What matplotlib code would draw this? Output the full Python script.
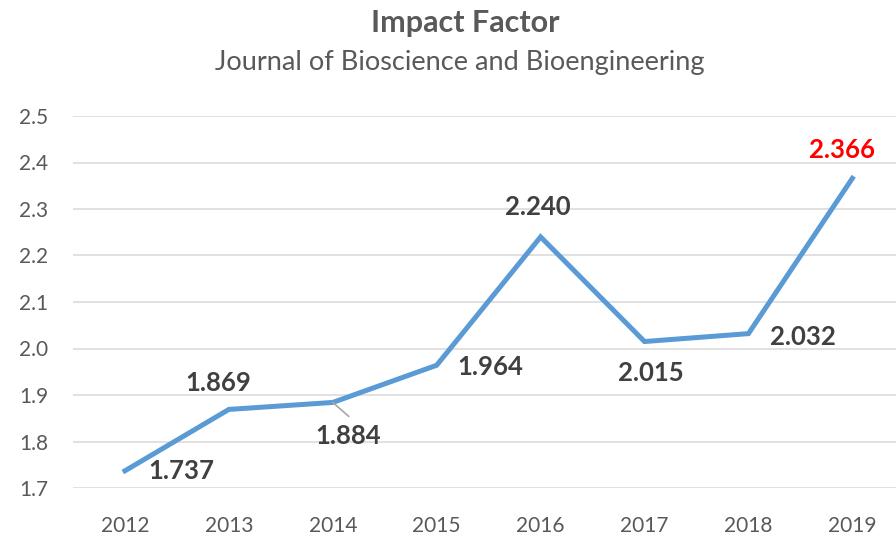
import matplotlib
matplotlib.use("Agg")
import matplotlib.pyplot as plt

years = ["2012", "2013", "2014", "2015", "2016", "2017", "2018", "2019"]
impact = [1.737, 1.869, 1.884, 1.964, 2.240, 2.015, 2.032, 2.366]
label_text = ["1.737", "1.869", "1.884", "1.964", "2.240", "2.015", "2.032", "2.366"]
# label offsets from each point, in pixels (dx, dy)
label_offsets = [(56, 0), (-11, 26), (15, -34), (54, -2), (-3, 30), (6, -31), (54, -3), (-10, 28)]
yticks = [1.7, 1.8, 1.9, 2.0, 2.1, 2.2, 2.3, 2.4, 2.5]

BLUE = "#5B9BD5"
GRID = "#D9D9D9"
TICK = "#595959"
LABEL = "#404040"
FONT = ["Lato", "DejaVu Sans"]

plt.rcParams["font.family"] = FONT

W, H = 896, 539
fig = plt.figure(figsize=(W / 100, H / 100), dpi=100)
ax = fig.add_axes([73 / W, 1 - 488 / H, (W - 73) / W, (488 - 116) / H])

x = list(range(len(years)))
ax.plot(x, impact, color=BLUE, linewidth=3.6, solid_joinstyle="miter", zorder=3)

ax.set_xlim(-0.5, 7.42)
ax.set_ylim(1.7, 2.5)
ax.set_yticks(yticks)
ax.set_yticklabels([f"{v:.1f}" for v in yticks])
ax.set_xticks(x)
ax.set_xticklabels(years)
ax.grid(axis="y", color=GRID, linewidth=1.1)
ax.set_axisbelow(True)
for s in ax.spines.values():
    s.set_visible(False)
ax.tick_params(axis="both", length=0, labelsize=15, labelcolor=TICK)
ax.tick_params(axis="y", pad=18)
ax.tick_params(axis="x", pad=20)

for i, (txt, (dx, dy)) in enumerate(zip(label_text, label_offsets)):
    last = i == len(years) - 1
    ax.annotate(txt, (x[i], impact[i]), xytext=(dx, dy), textcoords="offset pixels",
                ha="center", va="center", fontsize=18.5, fontweight="bold",
                color="#FF0000" if last else LABEL, zorder=4, annotation_clip=False)

# leader line for the 2014 label
ax.annotate("", (x[2], impact[2]), xytext=(16, -14), textcoords="offset pixels",
            arrowprops=dict(arrowstyle="-", color="#A6A6A6", lw=1.2, shrinkA=0, shrinkB=0))

fig.text(465 / W, 1 - 32 / H, "Impact Factor", ha="center", va="baseline",
         fontsize=22, fontweight="bold", color=TICK)
fig.text(460 / W, 1 - 70 / H, "Journal of Bioscience and Bioengineering", ha="center",
         va="baseline", fontsize=19.5, color=TICK)

fig.savefig("out.png", dpi=100)
